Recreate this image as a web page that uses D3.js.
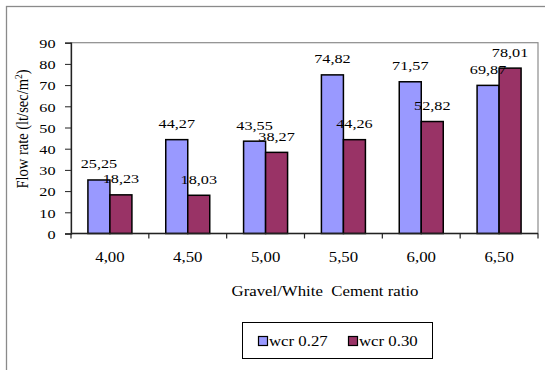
<!DOCTYPE html>
<html>
<head>
<meta charset="utf-8">
<script src="https://cdn.jsdelivr.net/npm/d3@7"></script>
<style>
  html, body { margin: 0; padding: 0; background: #fff; }
  svg { display: block; }
  text { font-family: "Liberation Serif", "Times New Roman", serif; fill: #000; }
</style>
</head>
<body>
<svg id="chart" width="545" height="370"></svg>
<script>
// Flow rate per gravel / white cement ratio, for two water-cement ratios
const categories = ["4,00", "4,50", "5,00", "5,50", "6,00", "6,50"];
const seriesNames = ["wcr 0.27", "wcr 0.30"];
const wcr027 = [25.25, 44.27, 43.55, 74.82, 71.57, 69.87];
const wcr030 = [18.23, 18.03, 38.27, 44.26, 52.82, 78.01];
const yTicks = [0, 10, 20, 30, 40, 50, 60, 70, 80, 90];
const colors = ["#9999FF", "#993366"];

const svg = d3.select("#chart");
const plot = { left: 71, right: 538, top: 42.7, bottom: 233.5 };
const SX = 1.2; // horizontal stretch of the lettering

// place a text element at (x, y) with horizontally widened glyphs
function put(sel, x, y) {
  return sel.attr("x", 0).attr("y", 0)
    .attr("transform", `translate(${x},${y}) scale(${SX},1)`);
}

// chart area frame (continues past the bottom/right edges)
svg.append("rect")
  .attr("x", 6.5).attr("y", 6.5).attr("width", 560).attr("height", 380)
  .attr("fill", "#fff").attr("stroke", "#8a8a8a").attr("stroke-width", 1.3);

const x = d3.scaleBand().domain(categories).range([plot.left, plot.right]);
const y = d3.scaleLinear().domain([0, 90]).range([plot.bottom, plot.top]);
const barW = 22;

// plot area border
svg.append("rect")
  .attr("x", plot.left).attr("y", plot.top)
  .attr("width", plot.right - plot.left).attr("height", plot.bottom - plot.top)
  .attr("fill", "none").attr("stroke", "#8c8c8c").attr("stroke-width", 1.2);

const data = categories.map((c, i) => ({ cat: c, vals: [wcr027[i], wcr030[i]] }));

const groups = svg.append("g").selectAll("g").data(data).join("g");
groups.selectAll("rect").data(d => d.vals.map((v, k) => ({ cat: d.cat, v, k })))
  .join("rect")
  .attr("x", d => x(d.cat) + x.bandwidth() / 2 - barW + d.k * barW)
  .attr("y", d => y(d.v))
  .attr("width", barW)
  .attr("height", d => y(0) - y(d.v))
  .attr("fill", d => colors[d.k])
  .attr("stroke", "#000").attr("stroke-width", 1.5);

// value labels
groups.selectAll("text").data(d => d.vals.map((v, k) => ({ cat: d.cat, v, k })))
  .join("text")
  .each(function (d) {
    put(d3.select(this), x(d.cat) + x.bandwidth() / 2 - barW / 2 + d.k * barW, y(d.v) - 11.5);
  })
  .attr("text-anchor", "middle")
  .attr("font-size", 13.5)
  .text(d => d.v.toFixed(2).replace(".", ","));

// y axis
const yAxis = svg.append("g").attr("transform", `translate(${plot.left},0)`)
  .call(d3.axisLeft(y).tickValues(yTicks).tickSize(6).tickPadding(5));
yAxis.select(".domain").attr("stroke", "#222").attr("stroke-width", 1.3);
yAxis.selectAll(".tick line").attr("stroke", "#222");
yAxis.selectAll(".tick text")
  .attr("font-size", 13.5).attr("font-family", "Liberation Serif")
  .attr("x", 0).attr("dy", null)
  .attr("transform", `translate(-15.5,4.7) scale(${SX},1)`);

// x axis with ticks between categories
const xAxisG = svg.append("g").attr("transform", `translate(0,${plot.bottom})`);
xAxisG.append("line").attr("x1", plot.left).attr("x2", plot.right)
  .attr("stroke", "#222").attr("stroke-width", 1.3);
const bounds = categories.map(c => x(c)).concat([plot.right]);
xAxisG.selectAll("line.tk").data(bounds).join("line").attr("class", "tk")
  .attr("x1", d => d).attr("x2", d => d).attr("y1", 0).attr("y2", 5)
  .attr("stroke", "#222").attr("stroke-width", 1.2);
xAxisG.selectAll("text").data(categories).join("text")
  .each(function (d) { put(d3.select(this), x(d) + x.bandwidth() / 2, 28); })
  .attr("text-anchor", "middle").attr("font-size", 14).text(d => d);

// axis titles
put(svg.append("text"), 325, 296)
  .attr("text-anchor", "middle").attr("font-size", 14)
  .style("white-space", "pre")
  .text("Gravel/White  Cement ratio");

const yTitle = svg.append("text")
  .attr("transform", `translate(27.5,129) scale(${SX},1) rotate(-90)`)
  .attr("text-anchor", "middle").attr("font-size", 14.5);
yTitle.append("tspan").text("Flow rate (lt/sec/m");
yTitle.append("tspan").attr("font-size", 9.5).attr("dy", -5).text("2");
yTitle.append("tspan").attr("dy", 5).text(")");

// legend
const lg = svg.append("g");
lg.append("rect").attr("x", 242.5).attr("y", 322.5).attr("width", 190).attr("height", 36)
  .attr("fill", "#fff").attr("stroke", "#000").attr("stroke-width", 1);
const items = [{ x: 258.5, tx: 269 }, { x: 348.5, tx: 359 }];
seriesNames.forEach((name, k) => {
  lg.append("rect").attr("x", items[k].x).attr("y", 336.5).attr("width", 9).attr("height", 9)
    .attr("fill", colors[k]).attr("stroke", "#000").attr("stroke-width", 1.2);
  put(lg.append("text"), items[k].tx, 345.5).attr("font-size", 14).text(name);
});
</script>
</body>
</html>
